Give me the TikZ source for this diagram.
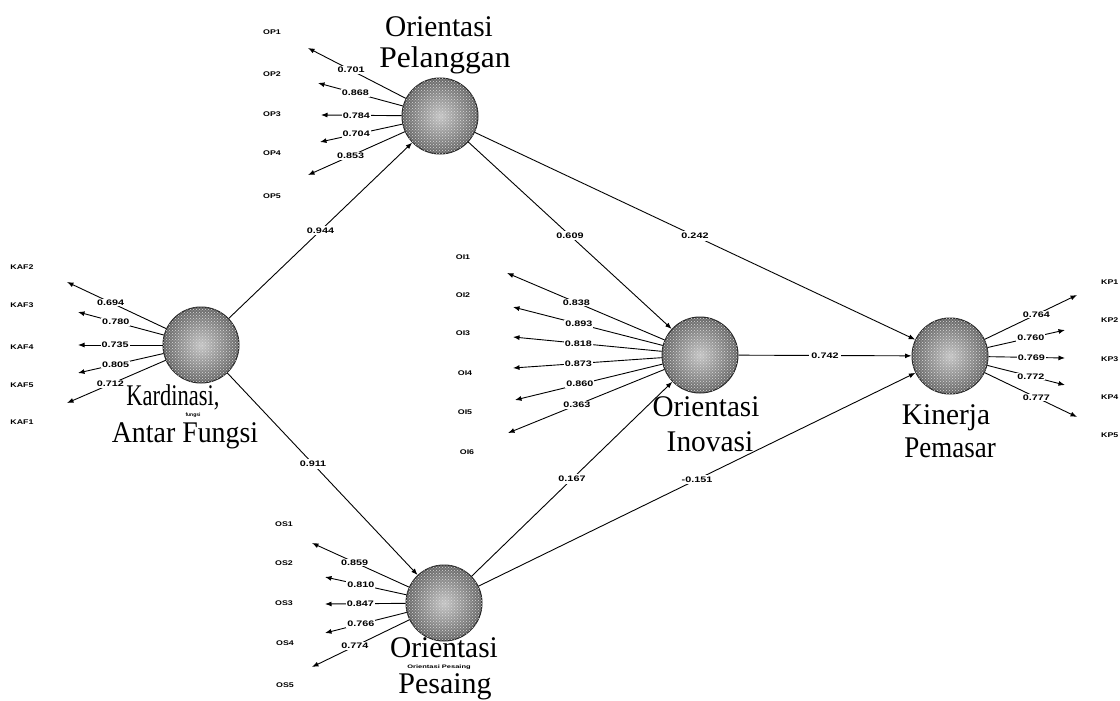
\documentclass[tikz,border=0pt]{standalone}
\usepackage{graphicx}
\usepackage{fontspec}
\setmainfont{Liberation Serif}
\newfontfamily\lsans{Liberation Sans}
\usetikzlibrary{arrows.meta,patterns}
\newcommand\smtxt[1]{\scalebox{1.35}[1]{#1}}
\newcommand\indtxt[1]{\scalebox{1.3}[1]{#1}}
\begin{document}
\begin{tikzpicture}[x=1pt,y=-1pt,
 lv/.style={circle, minimum size=76pt, inner sep=0pt, draw=black!85, line width=1pt,
   inner color=gray!45, outer color=black!60,
   postaction={pattern=crosshatch dots, pattern color=white!70!gray}},
 ind/.style={font=\lsans\bfseries\fontsize{6.8}{7}\selectfont, inner sep=0pt},
 val/.style={font=\lsans\bfseries\fontsize{8}{8}\selectfont, fill=white, inner sep=1pt, pos=0.56},
 pval/.style={font=\lsans\bfseries\fontsize{8}{8}\selectfont, fill=white, inner sep=2pt, pos=0.5},
 big/.style={font=\fontsize{30}{30}\selectfont, inner sep=0pt, anchor=base},
 tinyt/.style={font=\lsans\bfseries\fontsize{5}{5}\selectfont, inner sep=0pt},
 ld/.style={-{Latex[length=6.5pt,width=5pt]}, line width=0.9pt, black}]
\useasboundingbox (0,0) rectangle (1120,701);

% latent variables
\node[lv] (OP) at (440,116) {};
\node[lv] (KAF) at (201,345) {};
\node[lv] (OI) at (700,355) {};
\node[lv] (KP) at (950,356) {};
\node[lv] (OS) at (444,603) {};

% latent labels
\node[big] (opl1) at (439,37) {\scalebox{0.98}[1]{Orientasi}};
\node[big] (opl2) at (445,67) {\scalebox{1.05}[1]{Pelanggan}};
\node[big] (kafl1) at (173,405) {\scalebox{0.75}[1]{Kardinasi,}};
\node[tinyt] (kaft) at (193,415) {fungsi};
\node[big] (kafl2) at (185,442) {\scalebox{0.93}[1]{Antar Fungsi}};
\node[big] (oil1) at (706,416) {\scalebox{0.97}[1]{Orientasi}};
\node[big] (oil2) at (710,451) {\scalebox{0.98}[1]{Inovasi}};
\node[big] (kpl1) at (946,424) {\scalebox{0.98}[1]{Kinerja}};
\node[big] (kpl2) at (950,457) {\scalebox{0.9}[1]{Pemasar}};
\node[big] (osl1) at (444,657) {\scalebox{0.98}[1]{Orientasi}};
\node[tinyt] (ost) at (439,667) {\scalebox{1.5}[1]{Orientasi Pesaing}};
\node[big] (osl2) at (445,693) {Pesaing};

% indicator names
\node[ind] (op1) at (272,32) {\indtxt{OP1}};
\node[ind] (op2) at (272,74) {\indtxt{OP2}};
\node[ind] (op3) at (272,114) {\indtxt{OP3}};
\node[ind] (op4) at (272,153) {\indtxt{OP4}};
\node[ind] (op5) at (272,196) {\indtxt{OP5}};

\node[ind] (kaf2) at (22,267) {\indtxt{KAF2}};
\node[ind] (kaf3) at (22,305) {\indtxt{KAF3}};
\node[ind] (kaf4) at (22,347) {\indtxt{KAF4}};
\node[ind] (kaf5) at (22,385) {\indtxt{KAF5}};
\node[ind] (kaf1) at (22,422) {\indtxt{KAF1}};

\node[ind] (oi1) at (463,257) {\indtxt{OI1}};
\node[ind] (oi2) at (463,295) {\indtxt{OI2}};
\node[ind] (oi3) at (463,333) {\indtxt{OI3}};
\node[ind] (oi4) at (465,373) {\indtxt{OI4}};
\node[ind] (oi5) at (465,412) {\indtxt{OI5}};
\node[ind] (oi6) at (467,452) {\indtxt{OI6}};

\node[ind, anchor=west] (kp1) at (1101,282) {\indtxt{KP1}};
\node[ind, anchor=west] (kp2) at (1101,320) {\indtxt{KP2}};
\node[ind, anchor=west] (kp3) at (1101,359) {\indtxt{KP3}};
\node[ind, anchor=west] (kp4) at (1101,397) {\indtxt{KP4}};
\node[ind, anchor=west] (kp5) at (1101,435) {\indtxt{KP5}};

\node[ind] (os1) at (284,524) {\indtxt{OS1}};
\node[ind] (os2) at (284,563) {\indtxt{OS2}};
\node[ind] (os3) at (284,603) {\indtxt{OS3}};
\node[ind] (os4) at (285,643) {\indtxt{OS4}};
\node[ind] (os5) at (285,685) {\indtxt{OS5}};

% arrow tips of loadings
\coordinate (op1t) at (308,48);
\coordinate (op2t) at (318,83);
\coordinate (op3t) at (321,115);
\coordinate (op4t) at (320,142);
\coordinate (op5t) at (308,175);

\coordinate (kaf2t) at (67,282);
\coordinate (kaf3t) at (78,312);
\coordinate (kaf4t) at (78,345);
\coordinate (kaf5t) at (78,373);
\coordinate (kaf1t) at (67,403);

\coordinate (oi1t) at (507,273);
\coordinate (oi2t) at (513,307);
\coordinate (oi3t) at (513,337);
\coordinate (oi4t) at (513,368);
\coordinate (oi5t) at (515,400);
\coordinate (oi6t) at (508,433);

\coordinate (kp1t) at (1077,295);
\coordinate (kp2t) at (1065,330);
\coordinate (kp3t) at (1065,358);
\coordinate (kp4t) at (1065,385);
\coordinate (kp5t) at (1077,417);

\coordinate (os1t) at (312,543);
\coordinate (os2t) at (325,577);
\coordinate (os3t) at (325,604);
\coordinate (os4t) at (325,633);
\coordinate (os5t) at (312,667);

% loadings
\draw[ld] (OP) -- (op1t) node[val] {\smtxt{0.701}};
\draw[ld] (OP) -- (op2t) node[val] {\smtxt{0.868}};
\draw[ld] (OP) -- (op3t) node[val] {\smtxt{0.784}};
\draw[ld] (OP) -- (op4t) node[val] {\smtxt{0.704}};
\draw[ld] (OP) -- (op5t) node[val] {\smtxt{0.853}};

\draw[ld] (KAF) -- (kaf2t) node[val] {\smtxt{0.694}};
\draw[ld] (KAF) -- (kaf3t) node[val] {\smtxt{0.780}};
\draw[ld] (KAF) -- (kaf4t) node[val] {\smtxt{0.735}};
\draw[ld] (KAF) -- (kaf5t) node[val] {\smtxt{0.805}};
\draw[ld] (KAF) -- (kaf1t) node[val] {\smtxt{0.712}};

\draw[ld] (OI) -- (oi1t) node[val] {\smtxt{0.838}};
\draw[ld] (OI) -- (oi2t) node[val] {\smtxt{0.893}};
\draw[ld] (OI) -- (oi3t) node[val] {\smtxt{0.818}};
\draw[ld] (OI) -- (oi4t) node[val] {\smtxt{0.873}};
\draw[ld] (OI) -- (oi5t) node[val] {\smtxt{0.860}};
\draw[ld] (OI) -- (oi6t) node[val] {\smtxt{0.363}};

\draw[ld] (KP) -- (kp1t) node[val] {\smtxt{0.764}};
\draw[ld] (KP) -- (kp2t) node[val] {\smtxt{0.760}};
\draw[ld] (KP) -- (kp3t) node[val] {\smtxt{0.769}};
\draw[ld] (KP) -- (kp4t) node[val] {\smtxt{0.772}};
\draw[ld] (KP) -- (kp5t) node[val] {\smtxt{0.777}};

\draw[ld] (OS) -- (os1t) node[val] {\smtxt{0.859}};
\draw[ld] (OS) -- (os2t) node[val] {\smtxt{0.810}};
\draw[ld] (OS) -- (os3t) node[val] {\smtxt{0.847}};
\draw[ld] (OS) -- (os4t) node[val] {\smtxt{0.766}};
\draw[ld] (OS) -- (os5t) node[val] {\smtxt{0.774}};

% structural paths
\draw[ld] (KAF) -- (OP) node[pval] {\smtxt{0.944}};
\draw[ld] (OP) -- (OI) node[pval] {\smtxt{0.609}};
\draw[ld] (OP) -- (KP) node[pval] {\smtxt{0.242}};
\draw[ld] (OI) -- (KP) node[pval] {\smtxt{0.742}};
\draw[ld] (KAF) -- (OS) node[pval, pos=0.45] {\smtxt{0.911}};
\draw[ld] (OS) -- (OI) node[pval] {\smtxt{0.167}};
\draw[ld] (OS) -- (KP) node[pval] {\smtxt{-0.151}};
\end{tikzpicture}
\end{document}
